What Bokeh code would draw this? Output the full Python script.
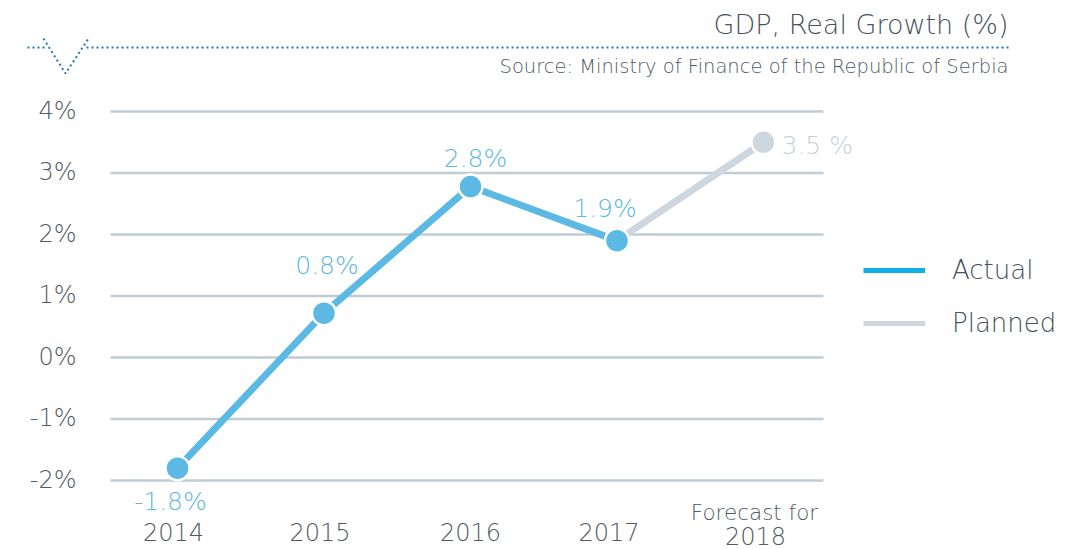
from bokeh.plotting import figure
from bokeh.models import ColumnDataSource, Range1d, Legend, LegendItem
from bokeh.core.properties import value
from bokeh.embed import file_html
from bokeh.resources import INLINE

# ---------------- data ----------------
years = ["2014", "2015", "2016", "2017", "2018"]
year_prefix = ["", "", "", "", "Forecast for"]
actual_idx = [0, 1, 2, 3]
actual = [-1.8, 0.72, 2.78, 1.9]
actual_labels = ["-1.8%", "0.8%", "2.8%", "1.9%"]
planned_idx = [3, 4]
planned = [1.9, 3.5]
planned_labels = ["", "3.5 %"]
y_ticks = [-2, -1, 0, 1, 2, 3, 4]
y_tick_labels = ["-2%", "-1%", "0%", "1%", "2%", "3%", "4%"]
title_text = "GDP, Real Growth (%)"
source_text = "Source: Ministry of Finance of the Republic of Serbia"
legend_labels = ["Actual", "Planned"]

# ---------------- layout constants ----------------
W, H = 1086, 549
SX = 146.5                 # px per category step
SY = 61.5                  # px per 1 percentage point
X0 = -177 / SX             # x value at left edge
Y_TOP = 4 + 111 / SY       # y value at top edge

def dx(px):
    return X0 + px / SX

def dy(py):
    return Y_TOP - py / SY

FONT_NAME = "DejaVu Sans Light, DejaVu Sans"
FONT = value(FONT_NAME)
TEXT = "#46515c"
AXTXT = "#4f5a64"
ACTUAL = "#5bb9e3"
PLANNED = "#cfd7de"
PLANNED_TXT = "#c6cfd7"
GRID = "#bfccd5"
LEG_ACTUAL = "#0eaee6"
DOTS = "#1c79bd"

p = figure(width=W, height=H, output_backend="svg", toolbar_location=None,
           x_range=Range1d(X0, X0 + W / SX),
           y_range=Range1d(Y_TOP - H / SY, Y_TOP),
           min_border=0, x_axis_location=None, y_axis_location=None)
p.outline_line_color = None
p.grid.visible = False

# horizontal grid lines
p.segment(x0=[dx(110)] * len(y_ticks), x1=[dx(823)] * len(y_ticks),
          y0=y_ticks, y1=y_ticks, line_color=GRID, line_width=2.5)

# y tick labels
p.text(x=[dx(76)] * len(y_ticks), y=y_ticks, text=y_tick_labels, y_offset=-1,
       text_font=FONT, text_font_size="24px", text_color=AXTXT,
       text_align="right", text_baseline="middle")

# planned line and actual line
p.line(planned_idx, planned, line_color=PLANNED, line_width=7)
p.line(actual_idx, actual, line_color=ACTUAL, line_width=7)
p.scatter(planned_idx[1:], planned[1:], size=24, fill_color=PLANNED,
          line_color="white", line_width=2.5)
p.scatter(actual_idx, actual, size=24, fill_color=ACTUAL,
          line_color="white", line_width=2.5)

# data labels
src_a = ColumnDataSource(dict(x=actual_idx, y=actual, t=actual_labels,
                              xo=[-7, 3, 5, -12], yo=[33, -48, -28, -32]))
p.text(x="x", y="y", text="t", x_offset="xo", y_offset="yo", source=src_a,
       text_font=FONT, text_font_size="25px", text_color=ACTUAL,
       text_align="center", text_baseline="middle")
src_p = ColumnDataSource(dict(x=planned_idx[1:], y=planned[1:], t=planned_labels[1:]))
p.text(x="x", y="y", text="t", x_offset=18, y_offset=3, source=src_p,
       text_font=FONT, text_font_size="25px", text_color=PLANNED_TXT,
       text_align="left", text_baseline="middle")

# category labels
idx = list(range(len(years)))
src_y = ColumnDataSource(dict(x=idx, y=[y_ticks[0]] * len(years), t=years,
                              xo=[-4, -4, 0, -8, -8], yo=[51, 51, 51, 51, 55]))
p.text(x="x", y="y", text="t", x_offset="xo", y_offset="yo", source=src_y,
       text_font=FONT, text_font_size="24px", text_color=AXTXT,
       text_align="center", text_baseline="middle")
src_f = ColumnDataSource(dict(x=idx[-1:], y=[y_ticks[0]], t=year_prefix[-1:]))
p.text(x="x", y="y", text="t", x_offset=-9, y_offset=32, source=src_f,
       text_font=FONT, text_font_size="21.5px", text_color=AXTXT,
       text_align="center", text_baseline="middle")

# header texts
p.text(x=[dx(1008)], y=[dy(24)], text=[title_text], text_font=FONT,
       text_font_size="27px", text_color=TEXT, text_align="right",
       text_baseline="middle")
p.text(x=[dx(1008)], y=[dy(66)], text=[source_text], text_font=FONT,
       text_font_size="19.5px", text_color=AXTXT, text_align="right",
       text_baseline="middle")

# dotted header rule with "V" mark
p.multi_line(xs=[[dx(27), dx(47)], [dx(43), dx(65), dx(88)], [dx(86), dx(1010)]],
             ys=[[dy(47), dy(47)], [dy(38), dy(73), dy(38)], [dy(47), dy(47)]],
             line_color=DOTS, line_width=2, line_dash="2 3")

# legend
nan = float("nan")
r_la = p.line(x=[nan], y=[nan], line_color=LEG_ACTUAL, line_width=5)
r_lp = p.line(x=[nan], y=[nan], line_color=PLANNED, line_width=5)
legend = Legend(items=[LegendItem(label=legend_labels[0], renderers=[r_la]),
                       LegendItem(label=legend_labels[1], renderers=[r_lp])],
                location=(863, 206), orientation="vertical",
                glyph_width=62, glyph_height=40, label_height=40, spacing=13,
                padding=0, margin=0, border_line_color=None,
                background_fill_alpha=0, label_standoff=27,
                label_text_font=FONT_NAME, label_text_font_size="26px",
                label_text_color=TEXT)
p.add_layout(legend, "center")

open("out.html", "w").write(file_html(p, INLINE))
